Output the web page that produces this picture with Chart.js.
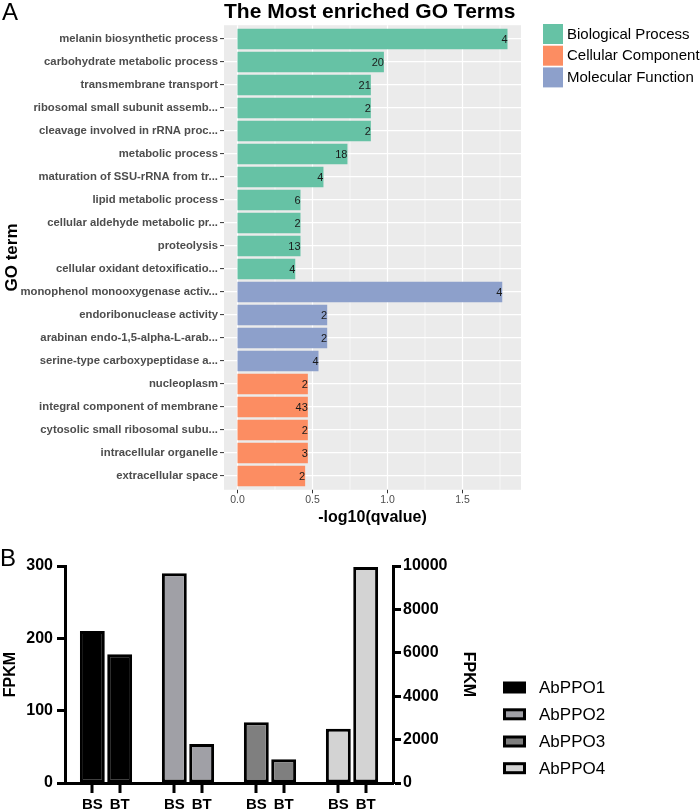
<!DOCTYPE html>
<html><head><meta charset="utf-8">
<script src="https://cdn.jsdelivr.net/npm/chart.js@4"></script>
<style>
html,body{margin:0;padding:0;background:#fff;}
#wrap{position:relative;width:700px;height:810px;overflow:hidden;background:#fff;}
canvas{position:absolute;left:0;}
#c1{top:0;width:700px;height:530px;}
#c2{top:530px;width:700px;height:280px;}
.lbl{position:absolute;font-family:Arial,"Liberation Sans",sans-serif;font-size:24px;line-height:24px;color:#000;}
</style></head><body>
<div id="wrap">
<canvas id="c1" width="700" height="530"></canvas>
<canvas id="c2" width="700" height="280"></canvas>
<div class="lbl" style="left:2px;top:0px">A</div>
<div class="lbl" style="left:0px;top:546px">B</div>
</div>
<script>
// ---------- DATA (panel A) ----------
const goTerms = [
  'melanin biosynthetic process',
  'carbohydrate metabolic process',
  'transmembrane transport',
  'ribosomal small subunit assemb...',
  'cleavage involved in rRNA proc...',
  'metabolic process',
  'maturation of SSU-rRNA from tr...',
  'lipid metabolic process',
  'cellular aldehyde metabolic pr...',
  'proteolysis',
  'cellular oxidant detoxificatio...',
  'monophenol monooxygenase activ...',
  'endoribonuclease activity',
  'arabinan endo-1,5-alpha-L-arab...',
  'serine-type carboxypeptidase a...',
  'nucleoplasm',
  'integral component of membrane',
  'cytosolic small ribosomal subu...',
  'intracellular organelle',
  'extracellular space'
];
const negLog10Q = [1.80, 0.976, 0.889, 0.889, 0.889, 0.733, 0.573, 0.42, 0.42, 0.42, 0.385,
                   1.765, 0.598, 0.598, 0.54,
                   0.469, 0.469, 0.469, 0.469, 0.451];
const geneCounts = [4, 20, 21, 2, 2, 18, 4, 6, 2, 13, 4, 4, 2, 2, 4, 2, 43, 2, 3, 2];
const termOntology = [
  'Biological Process','Biological Process','Biological Process','Biological Process',
  'Biological Process','Biological Process','Biological Process','Biological Process',
  'Biological Process','Biological Process','Biological Process',
  'Molecular Function','Molecular Function','Molecular Function','Molecular Function',
  'Cellular Component','Cellular Component','Cellular Component','Cellular Component','Cellular Component'
];
const ontologyNames = ['Biological Process', 'Cellular Component', 'Molecular Function'];
const qTicks = [0, 0.5, 1.0, 1.5];
const qMinorTicks = [0.25, 0.75, 1.25, 1.75];

// ---------- DATA (panel B) ----------
const genes = ['AbPPO1', 'AbPPO2', 'AbPPO3', 'AbPPO4'];
const conditions = ['BS', 'BT'];
const fpkmBS = [210, 290, 84, 2500];
const fpkmBT = [178, 54, 33, 9950];
const leftAxisTicks = [0, 100, 200, 300];
const rightAxisTicks = [0, 2000, 4000, 6000, 8000, 10000];

// ---------- STYLES ----------
const FONT = 'Arial, "Liberation Sans", Helvetica, sans-serif';
const ontologyColors = {
  'Biological Process': '#66C2A5',
  'Cellular Component': '#FC8D62',
  'Molecular Function': '#8DA0CB'
};
const geneFills = ['#000000', '#A0A0A6', '#7F7F7F', '#D3D3D3'];
const geneAxis = ['y', 'y', 'y', 'y2'];

// ---------- PANEL A ----------
function panelBounds(chart) {
  const ys = chart.scales.y;
  const p0 = ys.getPixelForValue(0), p1 = ys.getPixelForValue(1);
  const step = p1 - p0;
  return {
    left: chart.chartArea.left,
    right: chart.chartArea.right,
    top: p0 - 0.6 * step,
    bottom: ys.getPixelForValue(goTerms.length - 1) + 0.6 * step
  };
}

const goPlugin = {
  id: 'goPanel',
  beforeDraw(chart) {
    const ctx = chart.ctx, b = panelBounds(chart);
    ctx.save();
    ctx.fillStyle = '#EBEBEB';
    ctx.fillRect(b.left, b.top, b.right - b.left, b.bottom - b.top);
    ctx.restore();
  },
  beforeDatasetsDraw(chart) {
    const ctx = chart.ctx, b = panelBounds(chart), xs = chart.scales.x;
    ctx.save();
    ctx.strokeStyle = '#FFFFFF';
    ctx.lineWidth = 0.6;
    qMinorTicks.forEach(v => {
      const px = xs.getPixelForValue(v);
      ctx.beginPath(); ctx.moveTo(px, b.top); ctx.lineTo(px, b.bottom); ctx.stroke();
    });
    ctx.lineWidth = 1.2;
    qTicks.forEach(v => {
      const px = xs.getPixelForValue(v);
      ctx.beginPath(); ctx.moveTo(px, b.top); ctx.lineTo(px, b.bottom); ctx.stroke();
    });
    ctx.strokeStyle = '#333333';
    ctx.lineWidth = 1;
    qTicks.forEach(v => {
      const px = xs.getPixelForValue(v);
      ctx.beginPath(); ctx.moveTo(px, b.bottom); ctx.lineTo(px, b.bottom + 3.5); ctx.stroke();
    });
    ctx.restore();
  },
  afterDatasetsDraw(chart) {
    const ctx = chart.ctx;
    const meta = chart.getDatasetMeta(0);
    ctx.save();
    ctx.font = '11px ' + FONT;
    ctx.fillStyle = '#1A1A1A';
    ctx.textAlign = 'right';
    ctx.textBaseline = 'middle';
    meta.data.forEach((bar, i) => {
      ctx.fillText(String(geneCounts[i]), bar.x, bar.y + 0.5);
    });
    ctx.restore();
  },
  afterDraw(chart) {
    const ctx = chart.ctx, b = panelBounds(chart);
    ctx.save();
    ctx.font = 'bold 21px ' + FONT;
    ctx.fillStyle = '#000';
    ctx.textAlign = 'left';
    ctx.textBaseline = 'middle';
    ctx.fillText('The Most enriched GO Terms', b.left, 12);
    const lx = b.right + 22, ly0 = 24, pitch = 21.7;
    ctx.font = '15px ' + FONT;
    ontologyNames.forEach((name, i) => {
      const y = ly0 + i * pitch;
      ctx.fillStyle = ontologyColors[name];
      ctx.fillRect(lx, y, 20, 20);
      ctx.fillStyle = '#000';
      ctx.fillText(name, lx + 24, y + 10.5);
    });
    ctx.restore();
  }
};

new Chart(document.getElementById('c1'), {
  type: 'bar',
  data: {
    labels: goTerms,
    datasets: [{
      data: negLog10Q,
      backgroundColor: termOntology.map(t => ontologyColors[t]),
      borderWidth: 0,
      barPercentage: 0.9,
      categoryPercentage: 1.0
    }]
  },
  options: {
    indexAxis: 'y',
    responsive: false,
    animation: false,
    maintainAspectRatio: false,
    layout: { padding: { left: 0, top: 27.5, right: 179, bottom: 0 } },
    plugins: { legend: { display: false }, tooltip: { enabled: false } },
    scales: {
      y: {
        type: 'category',
        offset: true,
        border: { display: false },
        grid: { color: '#FFFFFF', lineWidth: 1.2, offset: false, drawTicks: true,
                tickLength: 4, tickColor: '#333333', tickWidth: 1 },
        ticks: { autoSkip: false, color: '#4D4D4D', padding: 2,
                 font: { family: FONT, size: 11.3, weight: 'bold' } },
        title: { display: true, text: 'GO term', color: '#000',
                 font: { family: FONT, size: 17, weight: 'bold' }, padding: { top: 2, bottom: 0 } },
        afterFit: s => { s.width = 224; }
      },
      x: {
        type: 'linear',
        min: -0.09,
        max: 1.89,
        border: { display: false },
        grid: { display: false, drawTicks: false },
        afterBuildTicks: s => { s.ticks = qTicks.map(v => ({ value: v })); },
        ticks: { color: '#4D4D4D', padding: 6.5,
                 font: { family: FONT, size: 10.5 },
                 callback: v => Number(v).toFixed(1) },
        title: { display: true, text: '-log10(qvalue)', color: '#000',
                 font: { family: FONT, size: 16, weight: 'bold' }, padding: { top: 2, bottom: 3 } },
        afterFit: s => { s.height = 42.5; }
      }
    }
  },
  plugins: [goPlugin]
});

// ---------- PANEL B ----------
const xSlots = [''];
genes.forEach(() => { conditions.forEach(c => xSlots.push(c)); xSlots.push(''); });

const geneDatasets = genes.map((g, gi) => {
  const d = xSlots.map(() => null);
  d[1 + 3 * gi] = fpkmBS[gi];
  d[2 + 3 * gi] = fpkmBT[gi];
  return {
    label: g,
    data: d,
    yAxisID: geneAxis[gi],
    backgroundColor: geneFills[gi],
    borderColor: '#000000',
    borderWidth: 3,
    borderSkipped: false,
    grouped: false,
    barPercentage: 0.91,
    categoryPercentage: 1.0
  };
});

const fpkmExtras = {
  id: 'fpkmExtras',
  afterDraw(chart) {
    const ctx = chart.ctx;
    const base = chart.scales.y.getPixelForValue(0);
    ctx.save();
    // x tick marks under each bar
    ctx.fillStyle = '#000000';
    chart.data.datasets.forEach((ds, di) => {
      chart.getDatasetMeta(di).data.forEach((el, j) => {
        if (ds.data[j] == null) return;
        ctx.fillRect(Math.round(el.x) - 1.5, base, 3, 10);
      });
    });
    // legend
    const lx = 503, centers = [157.5, 184.3, 211.5, 238.2];
    ctx.font = '17px ' + FONT;
    ctx.textAlign = 'left';
    ctx.textBaseline = 'middle';
    genes.forEach((g, i) => {
      const cy = centers[i];
      ctx.fillStyle = '#000';
      ctx.fillRect(lx, cy - 6, 23, 12);
      ctx.fillStyle = geneFills[i];
      ctx.fillRect(lx + 3, cy - 3, 17, 6);
      ctx.fillStyle = '#000';
      ctx.fillText(g, lx + 36, cy + 1);
    });
    ctx.restore();
  }
};

const yTickFont = { family: FONT, size: 16, weight: 'bold' };
const xTickFont = { family: FONT, size: 15, weight: 'bold' };
new Chart(document.getElementById('c2'), {
  type: 'bar',
  data: { labels: xSlots, datasets: geneDatasets },
  options: {
    responsive: false,
    animation: false,
    maintainAspectRatio: false,
    layout: { padding: { left: 0, top: 36, right: 221.4, bottom: 0 } },
    plugins: { legend: { display: false }, tooltip: { enabled: false } },
    scales: {
      x: {
        type: 'category',
        offset: false,
        border: { display: true, color: '#000', width: 3 },
        grid: { display: false, drawTicks: false },
        ticks: { autoSkip: false, maxRotation: 0, color: '#000', padding: 13, font: xTickFont },
        afterFit: s => { s.height = 27; }
      },
      y: {
        type: 'linear',
        position: 'left',
        min: 0, max: 300,
        afterBuildTicks: s => { s.ticks = leftAxisTicks.map(v => ({ value: v })); },
        border: { display: true, color: '#000', width: 3 },
        grid: { display: true, drawOnChartArea: false, drawTicks: true, tickLength: 8, tickWidth: 3, tickColor: '#000' },
        ticks: { color: '#000', padding: 4, font: yTickFont },
        title: { display: true, text: 'FPKM', color: '#000',
                 font: { family: FONT, size: 16, weight: 'bold' }, padding: { top: 1, bottom: 0 } },
        afterFit: s => { s.width = 65; }
      },
      y2: {
        type: 'linear',
        position: 'right',
        min: 0, max: 10000,
        afterBuildTicks: s => { s.ticks = rightAxisTicks.map(v => ({ value: v })); },
        border: { display: true, color: '#000', width: 3 },
        grid: { display: true, drawOnChartArea: false, drawTicks: true, tickLength: 8, tickWidth: 3, tickColor: '#000' },
        ticks: { color: '#000', padding: 2, font: yTickFont, callback: v => String(v) },
        title: { display: true, text: 'FPKM', color: '#000',
                 font: { family: FONT, size: 16, weight: 'bold' }, padding: { top: 1, bottom: 0 } },
        afterFit: s => { s.width = 85.6; }
      }
    }
  },
  plugins: [fpkmExtras]
});
</script>
</body></html>
